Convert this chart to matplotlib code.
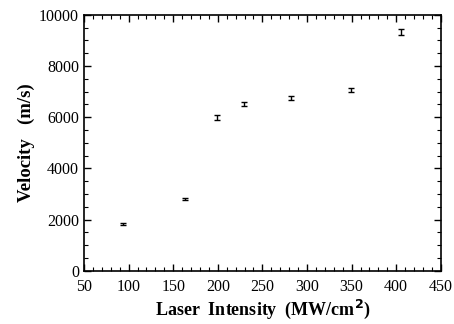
import matplotlib.pyplot as plt
from matplotlib.ticker import MultipleLocator

intensity = [94, 163, 199, 229, 282, 349, 405]
velocity = [1830, 2810, 5980, 6520, 6750, 7060, 9320]
errors = [40, 50, 90, 90, 80, 80, 120]

plt.rcParams['font.family'] = ['Liberation Serif', 'DejaVu Serif']

fig = plt.figure(figsize=(4.54, 3.24), dpi=100)
ax = fig.add_axes([0.185, 0.164, 0.786, 0.79])

ax.errorbar(intensity, velocity, yerr=errors, fmt='none', ecolor='black',
            elinewidth=1, capsize=2.2, capthick=1)

ax.set_xlim(50, 450)
ax.set_ylim(0, 10000)
ax.xaxis.set_major_locator(MultipleLocator(50))
ax.xaxis.set_minor_locator(MultipleLocator(10))
ax.yaxis.set_major_locator(MultipleLocator(2000))
ax.yaxis.set_minor_locator(MultipleLocator(500))
ax.tick_params(which='both', direction='in', top=True, right=True, labelsize=11.5)
ax.tick_params(which='major', length=5, width=1)
ax.tick_params(which='minor', length=3, width=0.8)
ax.tick_params(axis='x', pad=6)
for s in ax.spines.values():
    s.set_linewidth(1.2)

ax.set_xlabel('Laser  Intensity  (MW/cm$^\\mathbf{2}$)', fontsize=13, fontweight='bold',
              labelpad=2)
ax.set_ylabel('Velocity   (m/s)', fontsize=13.5, fontweight='bold', labelpad=3)

fig.savefig('out.png', dpi=100)
